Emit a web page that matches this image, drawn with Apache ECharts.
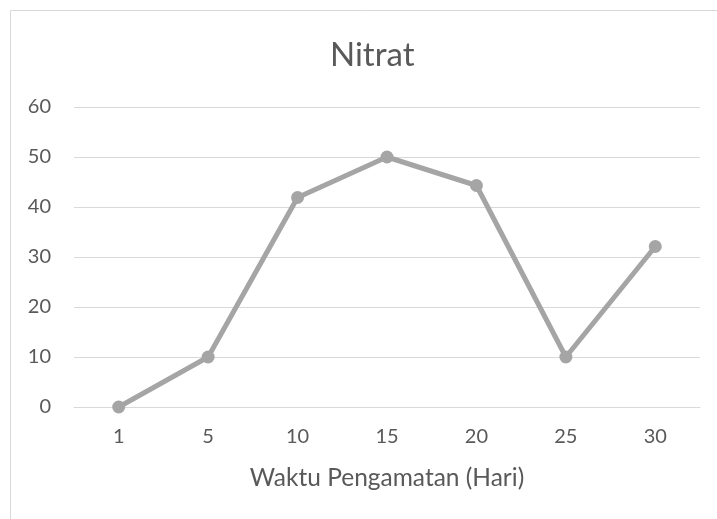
<!DOCTYPE html>
<html><head><meta charset="utf-8">
<script src="https://cdn.jsdelivr.net/npm/echarts@6/dist/echarts.min.js"></script>
<style>html,body{margin:0;padding:0;background:#fff}#c{width:717px;height:519px}</style>
</head><body><div id="c"></div>
<script>
var categories = ['1', '5', '10', '15', '20', '25', '30'];
var nitratValues = [0, 10, 41.9, 50, 44.3, 10, 32.1];
var yTicks = [0, 10, 20, 30, 40, 50, 60];

var chart = echarts.init(document.getElementById('c'));
var font = 'Lato, "Open Sans", sans-serif';
chart.setOption({
  animation: false,
  backgroundColor: '#fff',
  title: {
    text: 'Nitrat', left: 330, top: 39, padding: 0,
    textStyle: { fontFamily: font, fontSize: 33, fontWeight: 'normal', color: '#595959' }
  },
  graphic: [{
    type: 'rect', shape: { x: 10.5, y: 10.5, width: 720, height: 520 },
    style: { fill: 'none', stroke: '#D9D9D9', lineWidth: 1 }, silent: true
  }],
  grid: { left: 74, right: 17, top: 107, bottom: 112 },
  xAxis: {
    type: 'category', data: categories, boundaryGap: true,
    axisLine: { lineStyle: { color: '#D9D9D9', width: 1 } },
    axisTick: { show: false },
    axisLabel: { color: '#595959', fontFamily: font, fontSize: 20, margin: 20 },
    name: 'Waktu Pengamatan (Hari)', nameLocation: 'middle', nameGap: 59,
    nameTextStyle: { color: '#595959', fontFamily: font, fontSize: 24.5 }
  },
  yAxis: {
    type: 'value', min: yTicks[0], max: yTicks[yTicks.length - 1], interval: 10,
    axisLine: { show: false }, axisTick: { show: false },
    splitLine: { lineStyle: { color: '#D9D9D9', width: 1 } },
    axisLabel: { color: '#595959', fontFamily: font, fontSize: 20, margin: 23 }
  },
  series: [{
    type: 'line', data: nitratValues,
    lineStyle: { color: '#A5A5A5', width: 5 },
    itemStyle: { color: '#A5A5A5' },
    symbol: 'circle', symbolSize: 13
  }]
});
</script></body></html>
